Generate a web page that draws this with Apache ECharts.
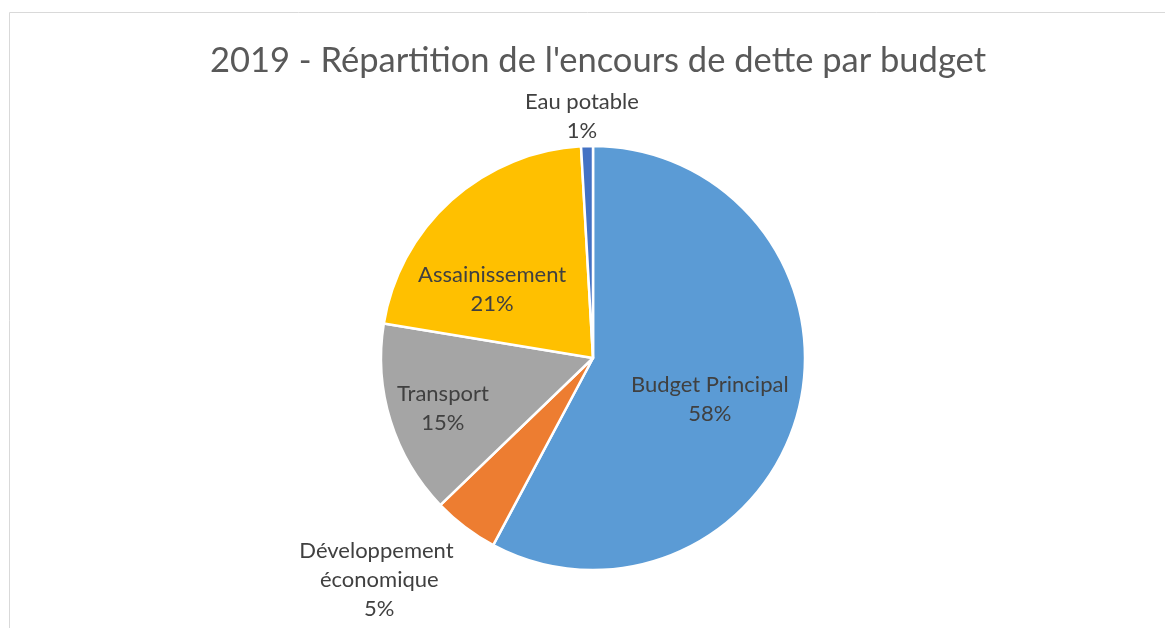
<!DOCTYPE html>
<html>
<head>
<meta charset="utf-8">
<title>2019 - Répartition de l'encours de dette par budget</title>
<script src="https://cdn.jsdelivr.net/npm/echarts@6/dist/echarts.min.js"></script>
<style>
  html, body { margin: 0; padding: 0; background: #fff; overflow: hidden; }
  #chart { width: 1165px; height: 628px; }
</style>
</head>
<body>
<div id="chart"></div>
<script>
// budgets, clockwise from 12 o'clock
const budgets = ['Budget Principal', 'Développement économique', 'Transport', 'Assainissement', 'Eau potable']
const shares = [57.8, 5.0, 14.8, 21.5, 0.9]
const colors = ['#5b9bd5', '#ed7d31', '#a5a5a5', '#ffc000', '#4472c4']

// Excel "best fit" label placement, as nudges from the centre-of-slice spot
const labelNudge = [[11, 15], [-148, 135], [-46, 18], [-28, 12], [-8, -133]]

const font = 'Lato, "Open Sans", sans-serif'

const chart = echarts.init(document.getElementById('chart'))

chart.setOption({
  animation: false,
  color: colors,
  title: {
    text: "2019 - Répartition de l'encours de dette par budget",
    left: 593, // centred over the pie, not the page
    textAlign: 'center',
    top: 38,
    textStyle: {
      fontFamily: font,
      fontSize: 34.5,
      fontWeight: 'normal',
      color: '#595959'
    }
  },
  graphic: [{
    // chart area frame (runs past the picture on right/bottom)
    type: 'rect',
    shape: { x: 9.5, y: 12.5, width: 2000, height: 2000 },
    style: { fill: 'none', stroke: '#d9d9d9', lineWidth: 1 },
    silent: true
  }],
  series: [{
    type: 'pie',
    center: [593, 358],
    radius: 212,
    startAngle: 90,
    clockwise: true,
    percentPrecision: 0,
    avoidLabelOverlap: false,
    itemStyle: { borderColor: '#fff', borderWidth: 2.5 },
    label: {
      position: 'inside',
      formatter: '{b}\n{d}%',
      fontFamily: font,
      fontSize: 22,
      lineHeight: 29,
      color: '#404040',
      align: 'center',
      width: 175,
      overflow: 'break'
    },
    labelLine: { show: false },
    labelLayout: p => ({ dx: labelNudge[p.dataIndex][0], dy: labelNudge[p.dataIndex][1] }),
    data: budgets.map((name, i) => ({ name, value: shares[i] }))
  }]
})
</script>
</body>
</html>
